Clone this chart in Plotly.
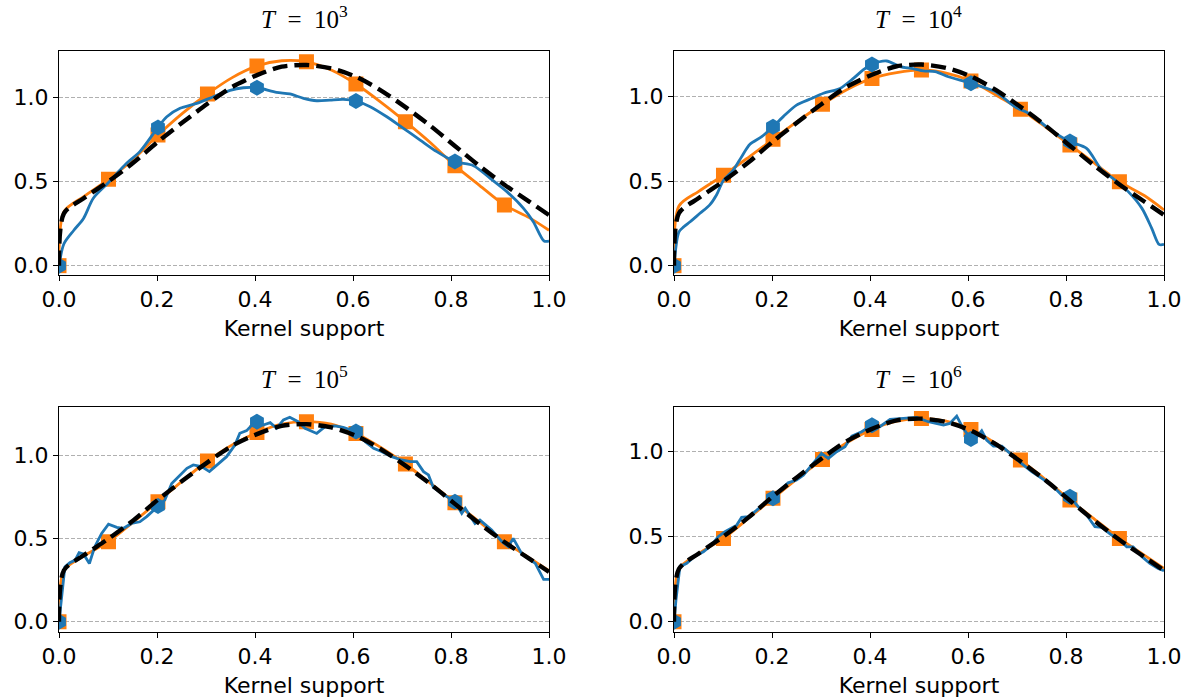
import plotly.graph_objects as go

# ---------------------------------------------------------------------------
# Data
# ---------------------------------------------------------------------------
BLUE = "#1f77b4"
ORANGE = "#ff7f0e"

# Sampling positions shared by the smooth curves (every 5th point of a 100-point grid)
grid_x = [0.0, 0.0101, 0.0505, 0.101, 0.1515, 0.202, 0.2525, 0.303, 0.3535, 0.404,
          0.4545, 0.505, 0.5556, 0.606, 0.6566, 0.707, 0.7576, 0.808, 0.8586, 0.909,
          0.9596, 1.0]

# True kernel (dashed black)
true_y = [0.0, 0.31, 0.40, 0.50, 0.61, 0.735, 0.85, 0.96, 1.06, 1.13,
          1.18, 1.19, 1.17, 1.12, 1.04, 0.94, 0.83, 0.71, 0.59, 0.48,
          0.38, 0.30]

# Orange estimate, one list per horizon
orange_1e3 = [0.0, 0.32, 0.41, 0.512, 0.63, 0.775, 0.905, 1.018, 1.115, 1.184,
              1.215, 1.209, 1.16, 1.077, 0.97, 0.854, 0.73, 0.593, 0.475, 0.36,
              0.285, 0.21]
orange_1e4 = [0.0, 0.353, 0.44, 0.535, 0.64, 0.748, 0.855, 0.955, 1.043, 1.108,
              1.142, 1.158, 1.14, 1.093, 1.01, 0.925, 0.822, 0.714, 0.605, 0.497,
              0.415, 0.33]
orange_1e5 = [0.0, 0.31, 0.395, 0.482, 0.60, 0.723, 0.85, 0.968, 1.065, 1.139,
              1.19, 1.205, 1.19, 1.134, 1.05, 0.95, 0.835, 0.717, 0.60, 0.482,
              0.385, 0.307]
orange_1e6 = [0.0, 0.31, 0.40, 0.488, 0.605, 0.723, 0.84, 0.951, 1.05, 1.127,
              1.175, 1.191, 1.175, 1.127, 1.045, 0.947, 0.835, 0.713, 0.60, 0.488,
              0.39, 0.3125]
orange_marker_idx = [0, 3, 5, 7, 9, 11, 13, 15, 17, 19]

# Blue estimate, one (x, y) pair of lists per horizon
blue_x_1e3 = [0.0, 0.0101, 0.0303, 0.05, 0.07, 0.10, 0.138, 0.165, 0.202, 0.22,
              0.247, 0.281, 0.315, 0.349, 0.376, 0.404, 0.444, 0.471, 0.499, 0.526,
              0.553, 0.58, 0.606, 0.635, 0.669, 0.703, 0.737, 0.771, 0.808, 0.846,
              0.88, 0.914, 0.948, 0.968, 0.99, 1.0]
blue_y_1e3 = [0.0, 0.13, 0.21, 0.28, 0.40, 0.49, 0.607, 0.676, 0.82, 0.883,
              0.933, 0.962, 1.002, 1.04, 1.055, 1.055, 1.028, 1.018, 0.992, 0.978,
              0.982, 0.986, 0.976, 0.943, 0.883, 0.814, 0.745, 0.676, 0.617, 0.593,
              0.518, 0.439, 0.34, 0.261, 0.146, 0.146]

blue_x_1e4 = [0.0, 0.0101, 0.02, 0.033, 0.053, 0.073, 0.087, 0.10, 0.121, 0.138,
              0.155, 0.179, 0.202, 0.223, 0.25, 0.278, 0.305, 0.339, 0.366, 0.386,
              0.404, 0.434, 0.461, 0.488, 0.509, 0.533, 0.56, 0.606, 0.655, 0.696,
              0.73, 0.764, 0.808, 0.842, 0.873, 0.90, 0.927, 0.955, 0.975, 0.99, 1.0]
blue_y_1e4 = [0.0, 0.20, 0.23, 0.26, 0.31, 0.36, 0.42, 0.50, 0.566, 0.645,
              0.718, 0.763, 0.822, 0.882, 0.95, 0.986, 1.02, 1.049, 1.108, 1.158,
              1.191, 1.211, 1.178, 1.166, 1.152, 1.148, 1.118, 1.079, 1.03, 0.94,
              0.892, 0.813, 0.734, 0.694, 0.566, 0.507, 0.438, 0.339, 0.221, 0.126, 0.126]

blue_x_1e5 = [0.0, 0.005, 0.012, 0.022, 0.033, 0.041, 0.050, 0.062, 0.073, 0.087,
              0.101, 0.118, 0.131, 0.148, 0.165, 0.179, 0.202, 0.216, 0.230, 0.247,
              0.261, 0.274, 0.291, 0.307, 0.322, 0.342, 0.359, 0.369, 0.383, 0.397,
              0.404, 0.417, 0.431, 0.444, 0.458, 0.471, 0.488, 0.502, 0.526, 0.543,
              0.563, 0.580, 0.606, 0.625, 0.642, 0.659, 0.679, 0.699, 0.717, 0.730,
              0.744, 0.754, 0.764, 0.781, 0.808, 0.822, 0.829, 0.849, 0.859, 0.883,
              0.904, 0.917, 0.927, 0.944, 0.972, 0.989, 1.0]
blue_y_1e5 = [0.0, 0.13, 0.33, 0.355, 0.371, 0.416, 0.408, 0.351, 0.452, 0.532,
              0.588, 0.568, 0.562, 0.592, 0.602, 0.633, 0.697, 0.733, 0.833, 0.884,
              0.924, 0.944, 0.934, 0.904, 0.944, 0.994, 1.064, 1.135, 1.151, 1.195,
              1.205, 1.185, 1.199, 1.165, 1.215, 1.231, 1.205, 1.165, 1.134, 1.175,
              1.179, 1.171, 1.145, 1.084, 1.044, 1.024, 0.994, 0.974, 0.964, 0.964,
              0.904, 0.884, 0.809, 0.773, 0.723, 0.653, 0.683, 0.592, 0.612, 0.552,
              0.482, 0.452, 0.502, 0.412, 0.351, 0.255, 0.255]

blue_x_1e6 = [0.0, 0.004, 0.012, 0.026, 0.043, 0.060, 0.077, 0.090, 0.104, 0.128,
              0.138, 0.152, 0.169, 0.189, 0.202, 0.216, 0.233, 0.25, 0.264, 0.284,
              0.301, 0.315, 0.332, 0.349, 0.363, 0.383, 0.404, 0.420, 0.441, 0.468,
              0.495, 0.519, 0.550, 0.563, 0.577, 0.590, 0.606, 0.618, 0.628, 0.638,
              0.652, 0.669, 0.689, 0.709, 0.730, 0.750, 0.771, 0.791, 0.808, 0.825,
              0.842, 0.859, 0.873, 0.893, 0.910, 0.924, 0.937, 0.955, 0.971, 0.988, 1.0]
blue_y_1e6 = [0.0, 0.127, 0.322, 0.342, 0.385, 0.41, 0.449, 0.498, 0.527, 0.566,
              0.611, 0.615, 0.654, 0.703, 0.723, 0.771, 0.814, 0.83, 0.859, 0.928,
              0.986, 0.957, 0.996, 1.025, 1.088, 1.113, 1.152, 1.143, 1.186, 1.191,
              1.197, 1.172, 1.152, 1.162, 1.205, 1.133, 1.07, 1.084, 1.119, 1.064,
              1.029, 1.029, 0.977, 0.928, 0.879, 0.84, 0.801, 0.742, 0.732, 0.674,
              0.625, 0.557, 0.553, 0.508, 0.479, 0.439, 0.439, 0.381, 0.342, 0.3125, 0.299]

blue_marker_x = [0.0, 0.202, 0.404, 0.606, 0.808]

titles = ["<i>T</i>\u2002=\u200210<sup>3</sup>", "<i>T</i>\u2002=\u200210<sup>4</sup>",
          "<i>T</i>\u2002=\u200210<sup>5</sup>", "<i>T</i>\u2002=\u200210<sup>6</sup>"]
x_label = "Kernel support"
x_ticks = [0.0, 0.2, 0.4, 0.6, 0.8, 1.0]
y_ticks = [0.0, 0.5, 1.0]

panels = [
    dict(orange=orange_1e3, bx=blue_x_1e3, by=blue_y_1e3, smooth_blue=True),
    dict(orange=orange_1e4, bx=blue_x_1e4, by=blue_y_1e4, smooth_blue=True),
    dict(orange=orange_1e5, bx=blue_x_1e5, by=blue_y_1e5, smooth_blue=False),
    dict(orange=orange_1e6, bx=blue_x_1e6, by=blue_y_1e6, smooth_blue=False),
]

# ---------------------------------------------------------------------------
# Layout geometry (paper fractions)
# ---------------------------------------------------------------------------
W, H = 1189, 700
col_dom = [[59 / W, 549 / W], [674 / W, 1164 / W]]
row_dom = [[1 - 275 / H, 1 - 50.7 / H], [1 - 631.7 / H, 1 - 406.7 / H]]
y_ranges = [[-0.0553, 1.2747], [-0.0552, 1.272], [-0.060, 1.295], [-0.0586, 1.260]]
title_y = [1 - 17 / H, 1 - 377 / H]

fig = go.Figure()
layout = dict(
    width=W, height=H,
    margin=dict(l=0, r=0, t=0, b=0, autoexpand=False),
    paper_bgcolor="white", plot_bgcolor="white",
    showlegend=False,
    font=dict(family="DejaVu Sans", color="black", size=22),
)

annotations = []
for i, p in enumerate(panels):
    r, c = divmod(i, 2)
    n = i + 1
    xa = "x" if n == 1 else f"x{n}"
    ya = "y" if n == 1 else f"y{n}"

    # orange estimate: line, then square markers every 10th grid sample
    fig.add_trace(go.Scatter(
        x=grid_x, y=p["orange"], mode="lines", xaxis=xa, yaxis=ya,
        line=dict(color=ORANGE, width=2.8, shape="spline", smoothing=0.8)))
    fig.add_trace(go.Scatter(
        x=[grid_x[k] for k in orange_marker_idx],
        y=[p["orange"][k] for k in orange_marker_idx],
        mode="markers", xaxis=xa, yaxis=ya,
        marker=dict(symbol="square", size=15, color=ORANGE)))

    # blue estimate: line, then hexagon markers every 20th grid sample
    if p["smooth_blue"]:
        bline = dict(color=BLUE, width=2.8, shape="spline", smoothing=0.8)
    else:
        bline = dict(color=BLUE, width=2.8)
    fig.add_trace(go.Scatter(
        x=p["bx"], y=p["by"], mode="lines", xaxis=xa, yaxis=ya, line=bline))
    mk = [k for k, xv in enumerate(p["bx"]) if xv in blue_marker_x]
    fig.add_trace(go.Scatter(
        x=[p["bx"][k] for k in mk], y=[p["by"][k] for k in mk],
        mode="markers", xaxis=xa, yaxis=ya,
        marker=dict(symbol="hexagon", size=16, color=BLUE)))

    # true kernel
    fig.add_trace(go.Scatter(
        x=grid_x, y=true_y, mode="lines", xaxis=xa, yaxis=ya,
        line=dict(color="black", width=4.4, dash="15px,7px",
                  shape="spline", smoothing=0.8)))

    axis_common = dict(showline=True, mirror=True, linecolor="black", linewidth=1.1,
                       ticks="outside", ticklen=5, tickwidth=1.1, tickcolor="black",
                       zeroline=False, automargin=False,
                       tickfont=dict(size=22, family="DejaVu Sans"))
    layout["xaxis" if n == 1 else f"xaxis{n}"] = dict(
        domain=col_dom[c], anchor=ya, range=[0, 1], tickvals=x_ticks,
        tickformat=".1f", showgrid=False,
        title=dict(text=x_label, standoff=9, font=dict(size=22, family="DejaVu Sans")),
        **axis_common)
    layout["yaxis" if n == 1 else f"yaxis{n}"] = dict(
        domain=row_dom[r], anchor=xa, range=y_ranges[i], tickvals=y_ticks,
        tickformat=".1f", showgrid=True, gridcolor="#b0b0b0", gridwidth=1,
        griddash="4px,2px", **axis_common)

    annotations.append(dict(
        text=titles[i], x=sum(col_dom[c]) / 2, y=title_y[r], xref="paper", yref="paper",
        xanchor="center", yanchor="middle", showarrow=False,
        font=dict(family="Liberation Serif", size=25, color="black")))

layout["annotations"] = annotations
fig.update_layout(**layout)
fig.write_html("out.html")
